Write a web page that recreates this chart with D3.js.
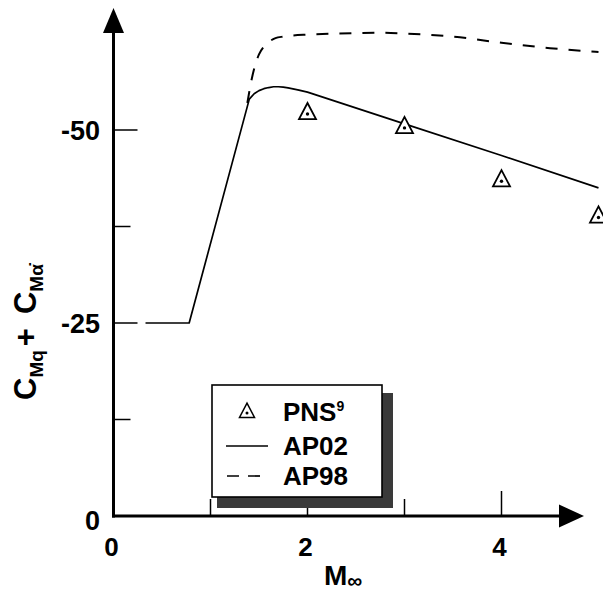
<!DOCTYPE html>
<html>
<head>
<meta charset="utf-8">
<script src="https://cdn.jsdelivr.net/npm/d3@7"></script>
<style>
  html, body { margin: 0; padding: 0; background: #fff; }
  svg { display: block; }
  text { font-family: "Liberation Sans", Arial, Helvetica, sans-serif; fill: #000; font-weight: bold; }
</style>
</head>
<body>
<svg id="chart" width="603" height="591"></svg>
<script>
// ---- data ----
const ap02M   = [0.33, 0.78, 1.40, 1.45, 1.50, 1.55, 1.60, 1.65, 1.70, 1.75, 1.80, 1.90, 2.00, 3.00, 4.00, 5.00];
const ap02Val = [-25.0, -25.0, -54.0, -54.7, -55.1, -55.35, -55.5, -55.6, -55.6, -55.55, -55.45, -55.2, -54.9, -50.8, -46.7, -42.5];

const ap98M   = [1.38, 1.42, 1.46, 1.50, 1.55, 1.60, 1.67, 1.75, 1.85, 2.00, 2.50, 2.75, 3.00, 3.50, 4.00, 4.50, 5.00];
const ap98Val = [-53.5, -56.3, -58.4, -59.8, -60.8, -61.4, -61.9, -62.1, -62.25, -62.35, -62.55, -62.6, -62.5, -62.1, -61.3, -60.6, -60.1];

const pnsM   = [2, 3, 4, 5];
const pnsVal = [-52.2, -50.4, -43.5, -38.8];

const xMajorTicks = [2, 4];
const xMinorTicks = [1, 3];
const xTickLabels = ["0", "2", "4"];
const xLabelValues = [0, 2, 4];
const yMajorTicks = [-50, -25];
const yMinorTicks = [-37.5, -12.5];
const yTickLabels = ["-50", "-25", "0"];
const yLabelValues = [-50, -25, 0];

const legendLabels = ["PNS", "AP02", "AP98"];

// ---- scales ----
const svg = d3.select("#chart");
const x = d3.scaleLinear().domain([0, 5]).range([113.5, 598.5]);
const y = d3.scaleLinear().domain([0, -50]).range([516, 130]);

const x0 = x(0), y0 = y(0);
const axisW = 3;

// ---- curves ----
const line = d3.line().x(d => x(d[0])).y(d => y(d[1]));
const smooth = d3.line().x(d => x(d[0])).y(d => y(d[1])).curve(d3.curveMonotoneX);

svg.append("path")
  .datum(ap02M.map((m, i) => [m, ap02Val[i]]))
  .attr("d", line)
  .attr("fill", "none").attr("stroke", "#000").attr("stroke-width", 1.7)
  .attr("stroke-linejoin", "round");

svg.append("path")
  .datum(ap98M.map((m, i) => [m, ap98Val[i]]))
  .attr("d", smooth)
  .attr("fill", "none").attr("stroke", "#000").attr("stroke-width", 2)
  .attr("stroke-dasharray", "12,11");

// ---- markers ----
const triPath = (cx, cy, s) => {
  const h = s * 0.95;
  return `M${cx},${cy - h * 0.62} L${cx + s / 2},${cy + h * 0.38} L${cx - s / 2},${cy + h * 0.38} Z`;
};
const mk = svg.append("g");
pnsM.forEach((m, i) => {
  const cx = x(m), cy = y(pnsVal[i]);
  mk.append("path").attr("d", triPath(cx, cy, 17))
    .attr("fill", "#fff").attr("stroke", "#000").attr("stroke-width", 1.8);
  mk.append("circle").attr("cx", cx).attr("cy", cy + 1).attr("r", 1.7).attr("fill", "#000");
});

// ---- axes ----
const ax = svg.append("g");
ax.append("line").attr("x1", x0).attr("x2", x0).attr("y1", y0 + 1.5).attr("y2", 30)
  .attr("stroke", "#000").attr("stroke-width", axisW);
ax.append("path").attr("d", `M${x0},8 L${x0 + 10.5},33 L${x0 - 10.5},33 Z`).attr("fill", "#000");
ax.append("line").attr("x1", x0 - 1.5).attr("x2", 562).attr("y1", y0).attr("y2", y0)
  .attr("stroke", "#000").attr("stroke-width", axisW);
ax.append("path").attr("d", `M584,${y0} L559,${y0 - 11.5} L559,${y0 + 11.5} Z`).attr("fill", "#000");

yMajorTicks.forEach(v => ax.append("line").attr("x1", x0).attr("x2", x0 + 24)
  .attr("y1", y(v)).attr("y2", y(v)).attr("stroke", "#000").attr("stroke-width", 1.5));
yMinorTicks.forEach(v => ax.append("line").attr("x1", x0).attr("x2", x0 + 17)
  .attr("y1", y(v)).attr("y2", y(v)).attr("stroke", "#000").attr("stroke-width", 1.5));
xMajorTicks.forEach(v => ax.append("line").attr("x1", x(v)).attr("x2", x(v))
  .attr("y1", y0).attr("y2", y0 - 25).attr("stroke", "#000").attr("stroke-width", 1.5));
xMinorTicks.forEach(v => ax.append("line").attr("x1", x(v)).attr("x2", x(v))
  .attr("y1", y0).attr("y2", y0 - 17).attr("stroke", "#000").attr("stroke-width", 1.5));

yLabelValues.forEach((v, i) => ax.append("text")
  .attr("x", 100).attr("y", y(v) + (v === 0 ? 4 : 0)).attr("dy", "0.36em")
  .attr("text-anchor", "end").attr("font-size", 27).text(yTickLabels[i]));
xLabelValues.forEach((v, i) => ax.append("text")
  .attr("x", x(v) - 2).attr("y", 556)
  .attr("text-anchor", "middle").attr("font-size", 26).text(xTickLabels[i]));

// axis titles
const xt = svg.append("text").attr("x", 324).attr("y", 585)
  .attr("font-size", 28);
xt.append("tspan").text("M");
xt.append("tspan").attr("font-size", 21).attr("dy", 3).text("\u221E");

const yt = svg.append("text").attr("transform", "translate(36,400) rotate(-90)")
  .attr("text-anchor", "start").attr("font-size", 31);
yt.append("tspan").text("C");
yt.append("tspan").attr("font-size", 19).attr("dy", 7).text("Mq");
yt.append("tspan").attr("dy", -7).attr("dx", 4).text("+");
yt.append("tspan").attr("dx", 14).text("C");
yt.append("tspan").attr("font-size", 19).attr("dy", 7).text("M\u03B1\u0307");

// ---- legend ----
const lg = svg.append("g");
const bx = 212, by = 385, bw = 170, bh = 112, sh = 11;
lg.append("rect").attr("x", bx + 5).attr("y", by + 8).attr("width", bw + sh - 5).attr("height", bh + sh - 8)
  .attr("fill", "#3a3a3a");
lg.append("rect").attr("x", bx).attr("y", by).attr("width", bw).attr("height", bh)
  .attr("fill", "#fff").attr("stroke", "#000").attr("stroke-width", 1.6);

const rowY = [412, 446, 476];
lg.append("path").attr("d", triPath(247, rowY[0], 15))
  .attr("fill", "#fff").attr("stroke", "#000").attr("stroke-width", 1.5);
lg.append("circle").attr("cx", 247).attr("cy", rowY[0] + 1).attr("r", 1.5).attr("fill", "#000");
lg.append("line").attr("x1", 226).attr("x2", 268).attr("y1", rowY[1]).attr("y2", rowY[1])
  .attr("stroke", "#000").attr("stroke-width", 1.7);
lg.append("line").attr("x1", 227).attr("x2", 268).attr("y1", rowY[2]).attr("y2", rowY[2])
  .attr("stroke", "#000").attr("stroke-width", 1.7).attr("stroke-dasharray", "12,9");

legendLabels.forEach((t, i) => {
  const tx = lg.append("text").attr("x", 283).attr("y", rowY[i]).attr("dy", "0.36em")
    .attr("font-size", 26).text(t);
  if (i === 0) tx.append("tspan").attr("font-size", 14).attr("dy", -10).text("9");
});
</script>
</body>
</html>
